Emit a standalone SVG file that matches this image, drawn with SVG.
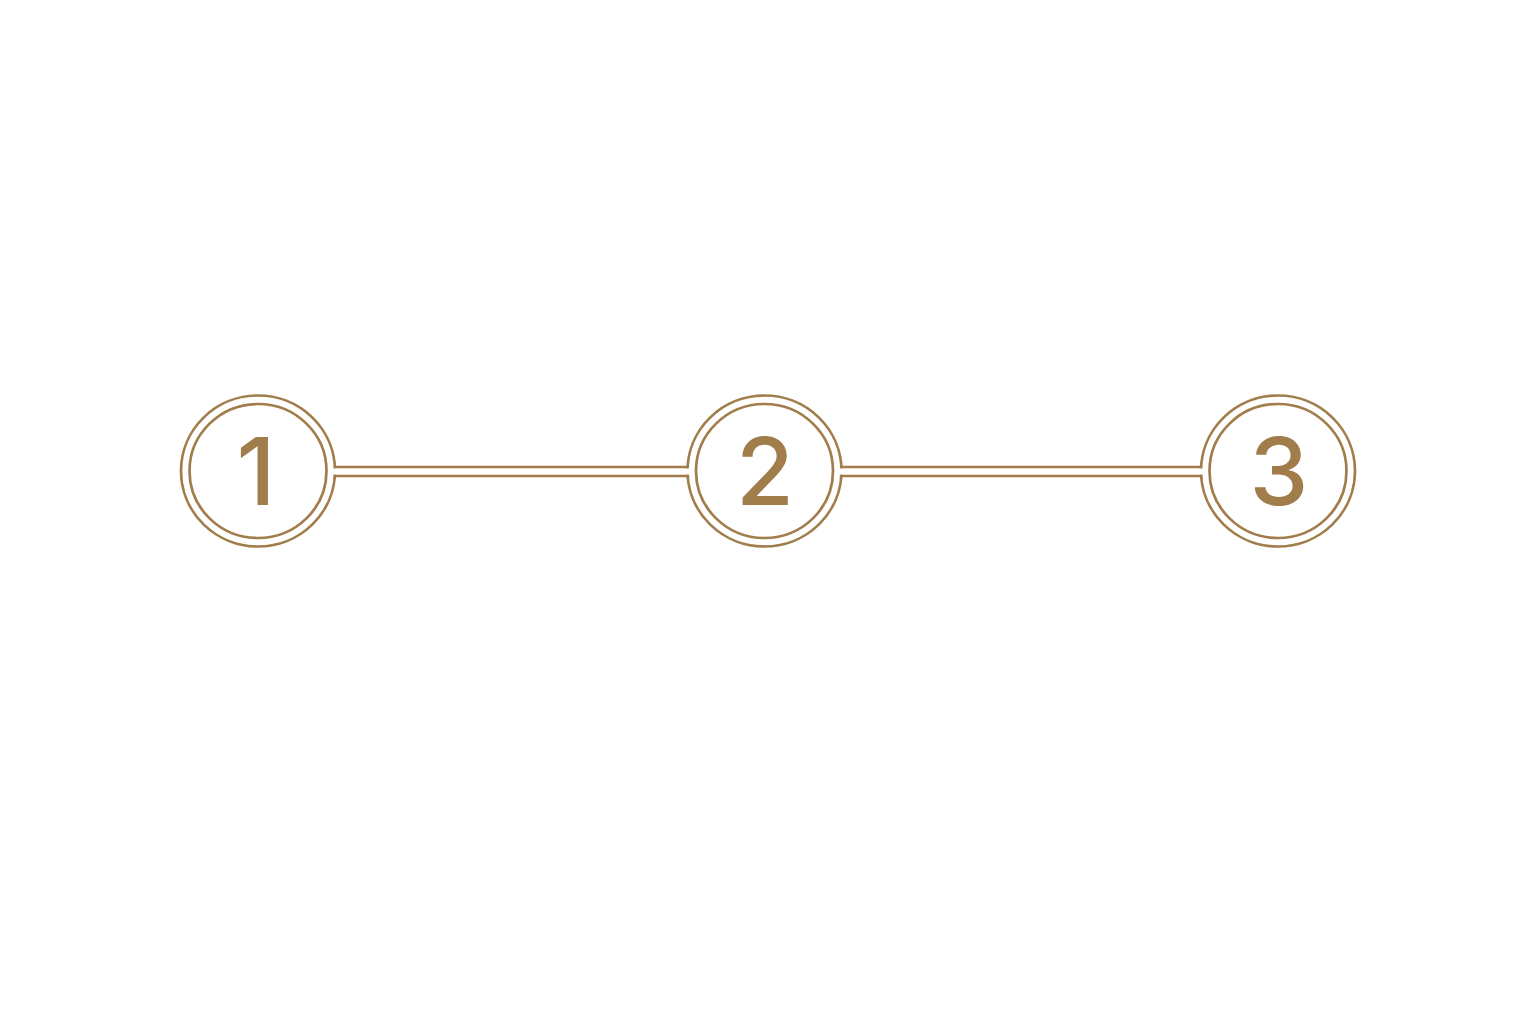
<svg xmlns="http://www.w3.org/2000/svg" width="1536" height="1024" viewBox="0 0 1536 1024">
<style>
.ring{fill:#fff;stroke:#A27D4C;stroke-width:2.7}
.num{font-family:Inter,"Noto Sans","Liberation Sans",sans-serif;font-size:94px;font-weight:500;fill:#A27D4C;text-anchor:middle}
.ln{stroke:#A27D4C;stroke-width:2.7;fill:none}
</style>
<rect width="1536" height="1024" fill="#fff"/>
<g id="node1">
<ellipse class="ring" cx="258" cy="471" rx="77" ry="75.5"/>
<ellipse class="ring" cx="258" cy="471" rx="68.5" ry="67"/>
<text class="num" x="256" y="505">1</text>
</g>
<g id="node2">
<ellipse class="ring" cx="764.5" cy="471" rx="77" ry="75.5"/>
<ellipse class="ring" cx="764.5" cy="471" rx="68.5" ry="67"/>
<text class="num" x="765" y="505">2</text>
</g>
<g id="node3">
<ellipse class="ring" cx="1278" cy="471" rx="77" ry="75.5"/>
<ellipse class="ring" cx="1278" cy="471" rx="68.5" ry="67"/>
<text class="num" x="1279" y="505">3</text>
</g>
<g id="connectors">
<rect x="330" y="468.4" width="364" height="6.2" fill="#fff"/>
<line class="ln" x1="334.5" y1="467" x2="688" y2="467"/>
<line class="ln" x1="334.5" y1="476" x2="688" y2="476"/>
<rect x="836" y="468.4" width="370" height="6.2" fill="#fff"/>
<line class="ln" x1="841" y1="467" x2="1202" y2="467"/>
<line class="ln" x1="841" y1="476" x2="1202" y2="476"/>
</g>
</svg>
